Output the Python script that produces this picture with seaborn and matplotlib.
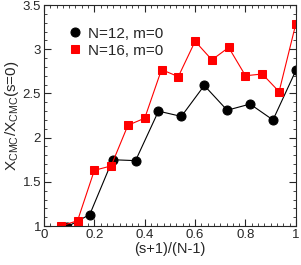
import pandas as pd
import matplotlib
matplotlib.use('Agg')
import matplotlib.pyplot as plt
from matplotlib.ticker import MultipleLocator
import seaborn as sns

# ratio X_CMC / X_CMC(s=0) vs (s+1)/(N-1)
x_n12 = [1/11, 2/11, 3/11, 4/11, 5/11, 6/11, 7/11, 8/11, 9/11, 10/11, 1.0]
y_n12 = [0.99, 1.13, 1.75, 1.74, 2.30, 2.24, 2.59, 2.31, 2.38, 2.20, 2.76]

x_n16 = [1/15, 2/15, 3/15, 4/15, 5/15, 6/15, 7/15, 8/15, 9/15, 10/15,
         11/15, 12/15, 13/15, 14/15, 1.0]
y_n16 = [1.00, 1.06, 1.63, 1.68, 2.14, 2.22, 2.77, 2.69, 3.09, 2.88,
         3.02, 2.70, 2.72, 2.52, 3.29]

labels = ['N=12, m=0', 'N=16, m=0']

sns.set_style('ticks')
plt.rcParams['font.family'] = ['Liberation Sans', 'DejaVu Sans']
plt.rcParams['mathtext.fontset'] = 'custom'
plt.rcParams['mathtext.rm'] = 'Liberation Sans'
plt.rcParams['mathtext.default'] = 'regular'

df12 = pd.DataFrame({'x': x_n12, 'y': y_n12})
df16 = pd.DataFrame({'x': x_n16, 'y': y_n16})

fig = plt.figure(figsize=(3.01, 2.65), dpi=100)
ax = fig.add_axes([0.146, 0.147, 0.837, 0.834])

sns.lineplot(data=df12, x='x', y='y', ax=ax, color='black', lw=0.8,
             marker='o', markersize=6.5, markeredgecolor='black',
             label=labels[0])
sns.lineplot(data=df16, x='x', y='y', ax=ax, color='red', lw=0.8,
             marker='s', markersize=5.2, markeredgecolor='red',
             label=labels[1])

ax.set_xlim(0, 1)
ax.set_ylim(1, 3.5)
ax.xaxis.set_minor_locator(MultipleLocator(0.025))
ax.yaxis.set_minor_locator(MultipleLocator(0.1))
ax.set_xticks([0, 0.2, 0.4, 0.6, 0.8, 1.0])
ax.set_xticklabels(['0', '0.2', '0.4', '0.6', '0.8', '1'])
ax.set_yticks([1, 1.5, 2, 2.5, 3, 3.5])
ax.set_yticklabels(['1', '1.5', '2', '2.5', '3', '3.5'])
ax.tick_params(which='both', direction='in', top=True, right=True,
               labelsize=9.5, pad=2)
ax.tick_params(which='major', length=5, width=0.8)
ax.tick_params(which='minor', length=2.5, width=0.6)
for sp in ax.spines.values():
    sp.set_linewidth(0.8)

ax.set_xlabel('(s+1)/(N-1)', fontsize=10.5, labelpad=1)
ax.set_ylabel(r'X$_{CMC}$/X$_{CMC}$(s=0)', fontsize=11, labelpad=1)

leg = ax.legend(loc='upper left', frameon=False, fontsize=11,
                bbox_to_anchor=(0.07, 0.93), handlelength=1.0,
                handletextpad=0.3, borderaxespad=0, labelspacing=0.2)
for h in leg.get_lines():
    h.set_linestyle('None')

fig.savefig('out.png', dpi=100)
